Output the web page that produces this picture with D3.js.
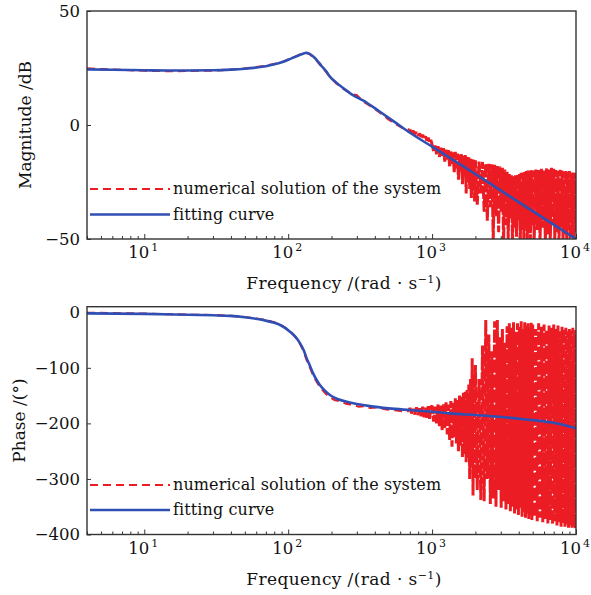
<!DOCTYPE html>
<html><head><meta charset="utf-8">
<script src="https://cdn.jsdelivr.net/npm/d3@7"></script>
<style>
html,body{margin:0;padding:0;background:#fff;}
svg text{font-family:"DejaVu Serif",serif;fill:#111;}
</style></head>
<body><svg id="c" width="591" height="595"></svg>
<script>
// ---------- data ----------
const xTickMajor = [10, 100, 1000, 10000];
const xTickExp = ["1", "2", "3", "4"];
const magTicks = [-50, 0, 50];
const phaseTicks = [-400, -300, -200, -100, 0];
const legendLabels = ["numerical solution of the system", "fitting curve"];

// fitting curve
const fitMagFreq = [4, 6, 10, 15, 20, 30, 40, 50, 60, 70, 80, 90, 100, 110, 120, 128, 134, 140, 150, 158, 170, 185, 195, 215, 242, 280, 333, 434, 567, 702, 1000, 2000, 5000, 10000];
const fitMag = [24.4, 24.2, 24.0, 23.9, 23.9, 24.0, 24.3, 24.7, 25.2, 25.8, 26.6, 27.5, 28.6, 29.7, 30.7, 31.4, 31.7, 31.3, 29.9, 28.5, 26.0, 23.3, 21.2, 18.7, 16.1, 13.2, 10.7, 5.8, 0.7, -3.4, -9.5, -21.5, -37.8, -50.0];

const fitPhaseFreq = [4, 10, 20, 30, 39.4, 50, 67, 80, 88, 103, 112, 121, 128, 134.5, 142, 149, 157, 166, 180, 195, 220, 255, 300, 370, 500, 700, 1000, 1330, 2000, 2910, 4500, 6580, 8000, 10000];
const fitPhase = [-2, -3, -4.5, -5.5, -6.5, -9, -14, -19, -23, -35, -44, -56, -68, -83, -97, -110, -121, -131, -141, -149, -156, -161, -165, -169, -173, -176, -179, -182, -185, -188, -193, -198, -202, -209];

// numerical solution, smooth part
const numMagFreq = [4, 5, 7, 10, 15, 20, 30, 40, 50, 60, 70, 80, 90, 100, 110, 120, 128, 134, 140, 150, 158, 170, 185, 195, 215, 242, 280, 300, 333, 380, 434, 500, 567, 640, 700];
const numMag = [24.8, 24.5, 24.2, 23.8, 23.6, 23.7, 23.9, 24.3, 24.8, 25.4, 26.0, 26.7, 27.5, 28.7, 29.8, 30.8, 31.5, 31.6, 31.2, 29.7, 28.2, 25.8, 23.0, 21.0, 18.4, 15.9, 13.5, 13.0, 10.3, 8.0, 5.4, 2.4, 0.2, -1.8, -2.0];

const numPhaseFreq = [4, 6, 10, 15, 20, 30, 40, 50, 67, 80, 88, 103, 112, 121, 128, 134.5, 142, 149, 157, 166, 180, 195, 210, 230, 255, 280, 310, 340, 370, 420, 480, 550, 620, 680, 700];
const numPhase = [-1, -1.5, -2.5, -3.5, -4.5, -5, -6.5, -8.5, -13, -18, -22, -34, -44, -57, -70, -86, -100, -113, -124, -134, -145, -153, -158, -160, -165, -166, -170, -169, -172, -171, -175, -176, -178, -178, -172];

// numerical solution, noisy high-frequency part
const noiseFreq = [700,720,740,760,780,800,820,840,860,880,900,920,940,960,980,
1000,1025,1050,1075,1100,1125,1150,1175,1200,1225,1250,1275,1300,1325,1350,1375,1400,1425,1450,1475,1500,1525,1550,1575,1600,1625,1650,1675,1700,1725,1750,1775,1800,1825,1850,1875,1900,1925,1950,1975,
2000,2060,2120,2180,2240,2300,2360,2420,2480,2540,2600,2660,2720,2780,2840,2900,2960,3020,3080,3140,3200,3260,3320,3380,3440,3500,3560,3620,3680,3740,3800,3860,3920,3980,4040,4100,4160,4220,4280,4340,4400,4460,4520,4580,4640,4700,4760,4820,4880,4940,
5000,5125,5250,5375,5500,5625,5750,5875,6000,6125,6250,6375,6500,6625,6750,6875,7000,7125,7250,7375,7500,7625,7750,7875,8000,8125,8250,8375,8500,8625,8750,8875,9000,9125,9250,9375,9500,9625,9750,9875,10000];

const noiseMag = [-2.0,-3.5,-2.6,-4.0,-3.2,-4.6,-3.8,-5.2,-4.3,-6.0,-5.0,-6.8,-5.6,-7.6,-6.5,
-8.6,-11.5,-9.0,-12.8,-9.3,-14.0,-10.0,-13.5,-10.2,-16.0,-10.8,-15.2,-11.0,-18.5,-11.5,-17.0,-12.0,-21.0,-11.8,-19.0,-12.5,-24.0,-13.0,-20.5,-12.8,-26.0,-13.5,-22.0,-13.2,-30.0,-14.0,-25.0,-14.2,-28.0,-14.8,-32.0,-15.0,-26.5,-15.2,-33.5,
-15.5,-35.0,-16.0,-30.0,-16.2,-38.0,-16.8,-42.0,-17.0,-36.0,-17.2,-50.0,-17.5,-40.0,-18.0,-47.0,-18.2,-38.0,-18.8,-52.0,-19.5,-44.0,-20.5,-50.0,-21.5,-41.0,-22.0,-52.0,-22.5,-45.0,-22.0,-49.0,-21.8,-42.0,-21.5,-52.0,-21.0,-46.0,-20.8,-50.0,-20.5,-43.0,-20.2,-52.0,-20.0,-47.0,-20.3,-51.0,-19.8,-44.0,
-20.0,-50.0,-19.5,-46.0,-19.8,-52.0,-19.2,-45.0,-20.0,-51.0,-19.0,-48.0,-19.5,-52.0,-18.8,-44.0,-19.2,-50.0,-19.8,-47.0,-20.2,-52.0,-19.6,-45.0,-20.0,-51.0,-20.4,-48.0,-19.8,-52.0,-20.6,-46.0,-20.2,-50.0,-21.0,-49.0,-20.5,-52.0,-21.0,-47.0,-21.0];

const noisePhase = [-172,-182,-174,-184,-171,-185,-173,-187,-170,-189,-172,-190,-169,-192,-171,
-168,-197,-170,-200,-166,-205,-168,-212,-165,-208,-162,-220,-166,-230,-160,-242,-163,-225,-155,-236,-158,-250,-150,-240,-152,-262,-145,-255,-143,-270,-140,-262,-130,-300,-120,-280,-83,-330,-110,-300,
-95,-320,-120,-338,-60,-340,-14,-300,-40,-345,-70,-335,-16,-350,-14,-320,-45,-352,-30,-340,-55,-355,-25,-345,-20,-358,-28,-350,-18,-362,-35,-355,-20,-365,-26,-352,-16,-368,-30,-360,-18,-370,-24,-362,-20,-372,-28,-365,-18,-374,
-22,-368,-30,-376,-20,-370,-26,-378,-22,-372,-32,-380,-24,-374,-28,-382,-22,-376,-30,-384,-24,-378,-34,-386,-26,-380,-30,-386,-28,-382,-34,-388,-30,-384,-32,-388,-28,-386,-34,-389,-32];

// ---------- drawing ----------
const svg = d3.select("#c");
const RED = "#ec1c24", BLUE = "#2f4fb4";
const L = 87, R = 576;
const x = d3.scaleLog().domain([4, 10000]).range([L, R]);

const minorTicks = [];
[1, 10, 100, 1000].forEach(d => { for (let k = 2; k <= 9; k++) { const v = d * k; if (v >= 4 && v <= 10000) minorTicks.push(v); } });

function panel(cfg) {
  const y = d3.scaleLinear().domain(cfg.yDomain).range([cfg.bottom, cfg.top]);
  const g = svg.append("g");
  const cid = "clip" + cfg.id;
  svg.append("clipPath").attr("id", cid).append("rect")
    .attr("x", L).attr("y", cfg.top).attr("width", R - L).attr("height", cfg.bottom - cfg.top);

  // axes
  const ax = g.append("g").attr("transform", `translate(0,${cfg.bottom})`)
    .call(d3.axisBottom(x).tickValues(xTickMajor).tickSizeInner(-5).tickSizeOuter(0).tickFormat(""));
  const axm = g.append("g").attr("transform", `translate(0,${cfg.bottom})`)
    .call(d3.axisBottom(x).tickValues(minorTicks).tickSizeInner(-3).tickSizeOuter(0).tickFormat(""));
  const ay = g.append("g").attr("transform", `translate(${L},0)`)
    .call(d3.axisLeft(y).tickValues(cfg.yTicks).tickSizeInner(-4).tickSizeOuter(0).tickPadding(7)
      .tickFormat(d => d < 0 ? "\u2212" + Math.abs(d) : String(d)));
  [ax, axm, ay].forEach(a => { a.select(".domain").remove(); a.selectAll("line").attr("stroke", "#333").attr("stroke-width", 1); });
  ay.selectAll("text").attr("font-size", 16.5).attr("font-family", "DejaVu Serif").attr("fill", "#111");

  // x tick labels with superscripts
  xTickMajor.forEach((v, i) => {
    const t = g.append("text").attr("x", x(v) - 1).attr("y", cfg.bottom + 19)
      .attr("text-anchor", "middle").attr("font-size", 16.5);
    t.append("tspan").text("10");
    t.append("tspan").attr("dx", 2).attr("dy", -7).attr("font-size", 11).text(xTickExp[i]);
  });

  // data
  const dg = g.append("g").attr("clip-path", `url(#${cid})`);
  const line = d3.line().x(d => x(d[0])).y(d => y(d[1]));
  const numPts = cfg.numF.map((f, i) => [f, cfg.numV[i]]);
  const noisePts = noiseFreq.map((f, i) => [f, cfg.noiseV[i]]);
  dg.append("path").attr("d", line(numPts)).attr("fill", "none").attr("stroke", RED)
    .attr("stroke-width", 2.2).attr("stroke-dasharray", "8,5");
  dg.append("path").attr("d", line(noisePts)).attr("fill", "none").attr("stroke", RED)
    .attr("stroke-width", 3).attr("stroke-dasharray", "13,2").attr("stroke-linejoin", "bevel");
  const fitPts = cfg.fitF.map((f, i) => [f, cfg.fitV[i]]);
  dg.append("path").attr("d", d3.line().x(d => x(d[0])).y(d => y(d[1])).curve(d3.curveMonotoneX)(fitPts))
    .attr("fill", "none").attr("stroke", BLUE).attr("stroke-width", 2.6);

  // frame
  g.append("rect").attr("x", L).attr("y", cfg.top).attr("width", R - L).attr("height", cfg.bottom - cfg.top)
    .attr("fill", "none").attr("stroke", "#333").attr("stroke-width", 1.4);

  // legend
  const lg = g.append("g");
  [[cfg.legY[0], RED, "8,5"], [cfg.legY[1], BLUE, null]].forEach((d, i) => {
    lg.append("line").attr("x1", 90).attr("x2", 170).attr("y1", d[0]).attr("y2", d[0])
      .attr("stroke", d[1]).attr("stroke-width", i ? 2.6 : 2.2).attr("stroke-dasharray", d[2]);
    lg.append("text").attr("x", 173).attr("y", d[0] + 5).attr("font-size", 16)
      .attr("letter-spacing", 0.1).text(legendLabels[i]);
  });

  // axis titles
  const xt = g.append("text").attr("x", 344).attr("y", cfg.bottom + 50).attr("text-anchor", "middle")
    .attr("font-size", 17).attr("letter-spacing", 0.4);
  xt.append("tspan").text("Frequency /(rad \u00b7 s");
  xt.append("tspan").attr("dy", -6).attr("font-size", 11).text("\u22121");
  xt.append("tspan").attr("dy", 6).text(")");
  g.append("text").attr("transform", `translate(${cfg.ytX},${(cfg.top + cfg.bottom) / 2}) rotate(-90)`)
    .attr("text-anchor", "middle").attr("font-size", 17).text(cfg.yTitle);
}

panel({ id: 1, top: 11, bottom: 239, yDomain: [-50, 50], yTicks: magTicks,
  fitF: fitMagFreq, fitV: fitMag, numF: numMagFreq, numV: numMag, noiseV: noiseMag,
  legY: [189, 214.5], yTitle: "Magnitude /dB", ytX: 31 });
panel({ id: 2, top: 306.7, bottom: 534.5, yDomain: [-400, 10], yTicks: phaseTicks,
  fitF: fitPhaseFreq, fitV: fitPhase, numF: numPhaseFreq, numV: numPhase, noiseV: noisePhase,
  legY: [485, 510], yTitle: "Phase /(\u00b0)", ytX: 25 });
</script></body></html>
